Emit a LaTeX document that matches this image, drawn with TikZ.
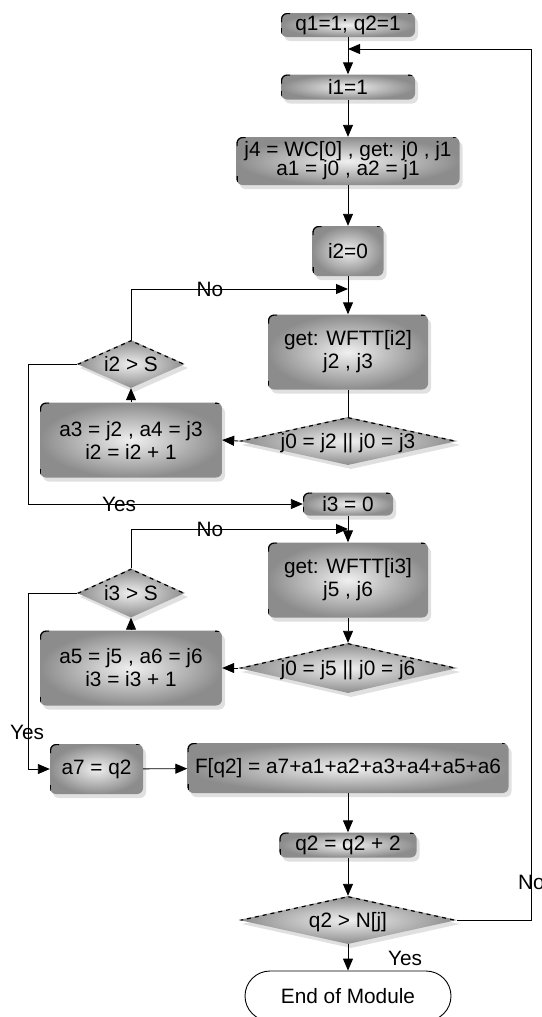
\documentclass[tikz,border=0pt]{standalone}
\usepackage{fontspec}
\setmainfont{Liberation Sans}
\usetikzlibrary{shapes.geometric,shadows,arrows.meta}
\newcommand{\dtext}[1]{\raisebox{-0.36em}[0pt][0pt]{\makebox[0pt]{#1}}}
\tikzset{
  every node/.style={font=\fontsize{20.8}{23}\selectfont},
  boxshade/.style={inner color=black!6, outer color=black!45},
  proc/.style={rectangle, rounded corners=6pt, inner sep=0pt, align=center,
    boxshade, drop shadow={shadow xshift=3pt, shadow yshift=-4pt, fill=black!12, opacity=1},
    path picture={
      \draw[line width=2.4pt] ([yshift=-9pt]path picture bounding box.north west) -- (path picture bounding box.north west) -- ([xshift=9pt]path picture bounding box.north west);
      \draw[line width=2.4pt] ([xshift=-7pt]path picture bounding box.north east) -- (path picture bounding box.north east);
      \draw[line width=2.4pt] ([yshift=9pt]path picture bounding box.south west) -- ([yshift=3pt]path picture bounding box.south west);
    }},
  dec/.style={diamond, inner sep=0pt, boxshade,
    drop shadow={shadow xshift=3pt, shadow yshift=-4pt, fill=black!12, opacity=1},
    path picture={
      \draw[line width=2.4pt, dash pattern=on 4pt off 4pt] (path picture bounding box.west) -- (path picture bounding box.north) -- (path picture bounding box.east);
    }},
  term/.style={rectangle, rounded corners=25pt, draw=black, line width=0.9pt, fill=white, inner sep=0pt},
  conn/.style={draw=black, line width=0.9pt},
  arr/.style={conn, -{Triangle[length=12pt,width=10pt]}},
  lbl/.style={inner sep=0pt}
}
\begin{document}
\begin{tikzpicture}[x=1pt,y=-1pt]
\useasboundingbox (0,0) rectangle (541,1017);
% process boxes
\node[proc, minimum width=134pt, minimum height=24pt] (q1) at (348,25) {q1=1; q2=1};
\node[proc, minimum width=134pt, minimum height=25pt] (i1) at (348,87) {i1=1};
\node[proc, minimum width=223pt, minimum height=48pt] (j4) at (348,161) {j4 = WC[0] , get: j0 , j1\\[-4pt] a1 = j0 , a2 = j1};
\node[proc, minimum width=71pt, minimum height=50pt] (i2z) at (348,251) {i2=0};
\node[proc, minimum width=160pt, minimum height=75pt] (getA) at (348,352) {get: WFTT[i2]\\ j2 , j3};
\node[dec, minimum width=219pt, minimum height=48pt] (d1) at (348,441) {\dtext{j0 = j2 || j0 = j3}};
\node[proc, minimum width=182pt, minimum height=75pt] (a3) at (131,440) {a3 = j2 , a4 = j3\\ i2 = i2 + 1};
\node[dec, minimum width=108pt, minimum height=48pt] (i2gt) at (131,364) {\dtext{i2 > S}};
\node[proc, minimum width=90pt, minimum height=23pt] (i3z) at (348,504) {i3 = 0};
\node[proc, minimum width=160pt, minimum height=75pt] (getB) at (348,580) {get: WFTT[i3]\\ j5 , j6};
\node[dec, minimum width=219pt, minimum height=50pt] (d2) at (348,668) {\dtext{j0 = j5 || j0 = j6}};
\node[proc, minimum width=182pt, minimum height=75pt] (a5) at (131,668) {a5 = j5 , a6 = j6\\ i3 = i3 + 1};
\node[dec, minimum width=108pt, minimum height=49pt] (i3gt) at (131,593) {\dtext{i3 > S}};
\node[proc, minimum width=93pt, minimum height=50pt] (a7) at (96.5,769) {a7 = q2};
\node[proc, minimum width=321pt, minimum height=50pt] (F) at (348,768) {F[q2] = a7+a1+a2+a3+a4+a5+a6};
\node[proc, minimum width=137pt, minimum height=25pt] (q2p) at (348,845) {q2 = q2 + 2};
\node[dec, minimum width=218pt, minimum height=48pt] (d3) at (348,920) {\dtext{q2 > N[j]}};
\node[term, minimum width=206pt, minimum height=50pt] (end) at (348,996) {End of Module};
% helper coordinates
\coordinate (m1) at (348,49);
\coordinate (n1) at (348,289);
\coordinate (n2) at (348,529);
\coordinate (y1) at (28,364);
\coordinate (y2) at (28,593);
\coordinate (r1) at (531,920);
% connectors
\draw[arr] (q1) -- (i1);
\draw[arr] (i1) -- (j4);
\draw[arr] (j4) -- (i2z);
\draw[arr] (i2z) -- (getA);
\draw[conn] (getA) -- (d1);
\draw[arr] (d1.west) -- (a3.east);
\draw[arr] (a3.north) -- (i2gt.south);
\draw[arr] (i2gt.north) |- (n1);
\draw[arr] (i2gt.west) -- (y1) |- (i3z.west);
\draw[arr] (i3z) -- (getB);
\draw[arr] (getB) -- (d2);
\draw[arr] (d2.west) -- (a5.east);
\draw[arr] (a5.north) -- (i3gt.south);
\draw[arr] (i3gt.north) |- (n2);
\draw[arr] (i3gt.west) -- (y2) |- (a7.west);
\draw[arr] (a7) -- (F);
\draw[arr] (F) -- (q2p);
\draw[arr] (q2p) -- (d3);
\draw[arr] (d3) -- (end);
\draw[arr] (d3.east) -- (r1) |- (m1);
% labels
\node[lbl] (lno1) at (210,289) {No};
\node[lbl] (lyes1) at (119,504) {Yes};
\node[lbl] (lno2) at (210,529) {No};
\node[lbl] (lyes2) at (27,732) {Yes};
\node[lbl] (lyes3) at (405,958) {Yes};
\node[lbl, anchor=west] (lno3) at (518,882) {No};
\end{tikzpicture}
\end{document}
